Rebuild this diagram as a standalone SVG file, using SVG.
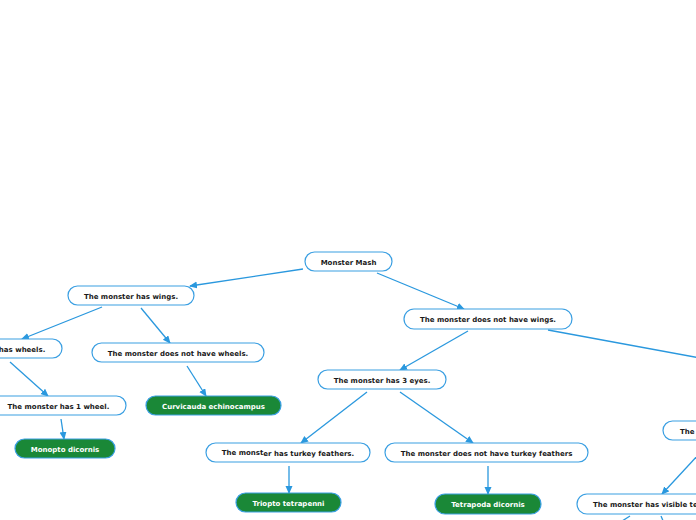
<svg xmlns="http://www.w3.org/2000/svg" width="696" height="520" viewBox="0 0 696 520">
<defs>
<style>
.n{fill:#ffffff;stroke:#3a9fe2;stroke-width:1.2}
.g{fill:#1a8837;stroke:#3a9fe2;stroke-width:1.2}
.t{font-family:"DejaVu Sans",Verdana,sans-serif;font-size:7px;font-weight:bold;fill:#1a1a1a;text-anchor:middle}
.tw{font-family:"DejaVu Sans",Verdana,sans-serif;font-size:7px;font-weight:bold;fill:#ffffff;text-anchor:middle}
.c{stroke:#2a98de;stroke-width:1.3;fill:none}
</style>
<marker id="a" markerUnits="userSpaceOnUse" markerWidth="8" markerHeight="8" refX="7" refY="3.5" orient="auto">
<path d="M0,0 L8,3.5 L0,7 z" fill="#2a98de"/>
</marker>
</defs>
<rect width="696" height="520" fill="#ffffff"/>
<g id="connectors">
<line class="c" x1="303" y1="269" x2="190" y2="286" marker-end="url(#a)"/>
<line class="c" x1="102" y1="307" x2="22" y2="339" marker-end="url(#a)"/>
<line class="c" x1="141" y1="308" x2="170" y2="343" marker-end="url(#a)"/>
<line class="c" x1="10" y1="362" x2="48" y2="396" marker-end="url(#a)"/>
<line class="c" x1="61" y1="419" x2="64" y2="439" marker-end="url(#a)"/>
<line class="c" x1="187" y1="366" x2="206" y2="396" marker-end="url(#a)"/>
<line class="c" x1="377" y1="273" x2="464" y2="309" marker-end="url(#a)"/>
<line class="c" x1="468" y1="331" x2="400" y2="370" marker-end="url(#a)"/>
<line class="c" x1="548" y1="330" x2="700" y2="358"/>
<line class="c" x1="367" y1="392" x2="301" y2="443" marker-end="url(#a)"/>
<line class="c" x1="400" y1="392" x2="473" y2="443" marker-end="url(#a)"/>
<line class="c" x1="289" y1="466" x2="289" y2="493" marker-end="url(#a)"/>
<line class="c" x1="488" y1="466" x2="488" y2="494" marker-end="url(#a)"/>
<line class="c" x1="700" y1="453" x2="662" y2="494" marker-end="url(#a)"/>
<line class="c" x1="630" y1="516" x2="619" y2="523"/>
<line class="c" x1="661" y1="516" x2="664" y2="523"/>
</g>
<g id="monster-mash"><rect class="n" x="305" y="252" width="87" height="19" rx="9.5"/><text class="t" x="348.5" y="264.5">Monster Mash</text></g>
<g id="has-wings"><rect class="n" x="68" y="286" width="126" height="19" rx="9.5"/><text class="t" x="131" y="298.5">The monster has wings.</text></g>
<g id="has-wheels"><rect class="n" x="-70" y="339" width="132" height="19" rx="9.5"/><text class="t" x="-4" y="351.5">The monster has wheels.</text></g>
<g id="no-wheels"><rect class="n" x="92" y="343" width="172" height="19" rx="9.5"/><text class="t" x="178" y="355.5">The monster does not have wheels.</text></g>
<g id="one-wheel"><rect class="n" x="-9" y="396" width="135" height="19" rx="9.5"/><text class="t" x="58.5" y="408.5">The monster has 1 wheel.</text></g>
<g id="monopto"><rect class="g" x="15" y="439" width="100" height="19" rx="9.5"/><text class="tw" x="65" y="451.5">Monopto dicornis</text></g>
<g id="curvicauda"><rect class="g" x="146" y="396" width="135" height="19" rx="9.5"/><text class="tw" x="213.5" y="408.5">Curvicauda echinocampus</text></g>
<g id="no-wings"><rect class="n" x="404" y="309" width="168" height="20" rx="10"/><text class="t" x="488" y="322">The monster does not have wings.</text></g>
<g id="three-eyes"><rect class="n" x="318" y="370" width="128" height="19" rx="9.5"/><text class="t" x="382" y="382.5">The monster has 3 eyes.</text></g>
<g id="turkey"><rect class="n" x="206" y="443" width="164" height="19" rx="9.5"/><text class="t" x="288" y="455"><tspan>The monst</tspan><tspan dy="1">er has turkey feathers.</tspan></text></g>
<g id="triopto"><rect class="g" x="236" y="493" width="105" height="19" rx="9.5"/><text class="tw" x="288.5" y="505.5">Triopto tetrapenni</text></g>
<g id="no-turkey"><rect class="n" x="385" y="443" width="203" height="19" rx="9.5"/><text class="t" x="486.5" y="455.5">The monster does not have turkey feathers</text></g>
<g id="tetrapoda"><rect class="g" x="435" y="494" width="106" height="20" rx="10"/><text class="tw" x="488" y="507">Tetrapoda dicornis</text></g>
<g id="right-the"><rect class="n" x="663" y="421" width="100" height="19" rx="9.5"/><text class="t" x="680" y="433.5" style="text-anchor:start">The</text></g>
<g id="visible-teeth"><rect class="n" x="577" y="494" width="200" height="20" rx="10"/><text class="t" x="593" y="507" style="text-anchor:start">The monster has visible te</text></g>
</svg>
